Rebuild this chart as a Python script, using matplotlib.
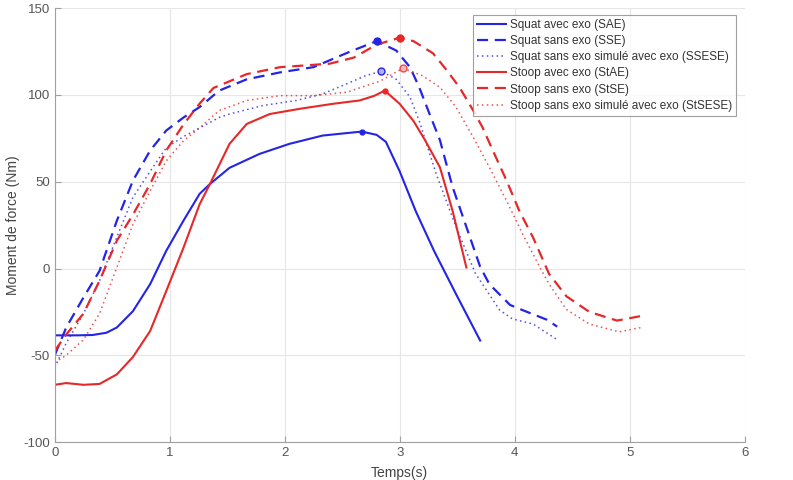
import matplotlib
matplotlib.use("Agg")
import matplotlib.pyplot as plt

plt.rcParams["font.family"] = ["Liberation Sans", "DejaVu Sans"]
plt.rcParams["axes.unicode_minus"] = False

# Squat avec exo (SAE)
sae_t = [0.0, 0.2, 0.33, 0.45, 0.54, 0.68, 0.83, 0.97, 1.12, 1.26, 1.35, 1.52, 1.78, 2.04,
         2.33, 2.67, 2.8, 2.88, 3.0, 3.14, 3.3, 3.5, 3.7]
sae_y = [-38.5, -38.5, -38.3, -37, -34, -24.6, -9, 10.2, 27.6, 43, 48.7, 58, 66, 71.8,
         76.6, 78.9, 77, 73, 56, 33, 10, -16, -41.5]
# Squat sans exo (SSE)
sse_t = [0.0, 0.1, 0.25, 0.39, 0.54, 0.68, 0.83, 0.97, 1.12, 1.26, 1.43, 1.67, 1.96, 2.25,
         2.57, 2.8, 2.97, 3.09, 3.17, 3.26, 3.35, 3.46, 3.58, 3.7, 3.78, 3.96, 4.07, 4.28, 4.37]
sse_y = [-50, -34, -16.7, -1.3, 27.5, 50.6, 68, 79.5, 87, 93, 102.5, 109, 113, 116,
         125, 131, 125.6, 116, 104.4, 89, 74, 47, 24, 1, -9, -21, -24, -29.5, -33.5]
# Squat sans exo simulé avec exo (SSESE)
ssese_t = [0.0, 0.1, 0.25, 0.39, 0.54, 0.68, 0.83, 0.97, 1.12, 1.26, 1.43, 1.52, 1.81, 2.1,
           2.33, 2.54, 2.7, 2.84, 2.97, 3.09, 3.17, 3.32, 3.49, 3.66, 3.87, 3.98, 4.16, 4.37]
ssese_y = [-57, -43, -26, -7, 18, 41, 56, 69.6, 76, 81, 87, 89, 93.9, 96.8,
           100.6, 106.4, 111, 113.7, 109, 98.7, 85, 54, 24, -3, -24, -29, -32, -41]
# Stoop avec exo (StAE)
stae_t = [0.0, 0.1, 0.25, 0.39, 0.54, 0.68, 0.83, 0.97, 1.12, 1.26, 1.35, 1.52, 1.67, 1.87,
          2.13, 2.42, 2.65, 2.78, 2.87, 3.0, 3.12, 3.22, 3.35, 3.46, 3.58]
stae_y = [-67, -66, -67, -66.5, -61, -51, -36, -13, 12, 37, 48.7, 71.8, 83.3, 89,
          92, 94.9, 96.8, 99.5, 102.5, 94.9, 85, 74, 58.3, 33.3, 0.6]
# Stoop sans exo (StSE)
stse_t = [0.0, 0.1, 0.25, 0.39, 0.54, 0.68, 0.83, 0.97, 1.12, 1.26, 1.38, 1.67, 1.96, 2.39,
          2.6, 2.8, 3.0, 3.12, 3.29, 3.4, 3.52, 3.64, 3.72, 3.81, 3.93, 4.04, 4.16, 4.3,
          4.45, 4.65, 4.89, 5.09]
stse_y = [-47.5, -38, -26, -7, 16, 31, 48.7, 68, 83, 95, 104, 112, 116, 118,
          121.5, 129, 133, 131, 124, 115, 104.4, 91, 81.4, 68, 50.6, 33.3, 17.9, -3.2,
          -16, -25, -30, -27.5]
# Stoop sans exo simulé avec exo (StSESE)
stsese_t = [0.0, 0.1, 0.25, 0.39, 0.54, 0.68, 0.83, 0.97, 1.12, 1.26, 1.43, 1.67, 1.96, 2.25,
            2.54, 2.83, 3.03, 3.2, 3.35, 3.49, 3.64, 3.78, 3.93, 4.07, 4.22, 4.3, 4.45,
            4.65, 4.91, 5.1]
stsese_y = [-54, -50, -41, -26, 0.6, 25.5, 44.7, 62, 73.6, 81, 91, 96.8, 99.6, 99.6,
            101.6, 108, 115.4, 111, 104.4, 93, 75.6, 58.3, 39, 19.8, 0.6, -9, -23.6,
            -32, -36.5, -34]

# peak markers (t, y)
peaks = {
    "SAE": (2.67, 78.9),
    "SSE": (2.8, 131),
    "SSESE": (2.84, 113.7),
    "StAE": (2.87, 102.5),
    "StSE": (3.0, 133),
    "StSESE": (3.03, 115.4),
}

BLUE = "#2424E6"
RED = "#E62828"
DASH = (0, (5, 3))
DOT = (0, (1, 2.2))

fig = plt.figure(figsize=(7.93, 4.8), dpi=100)
ax = fig.add_axes([0.069, 0.079, 0.870, 0.904])

ax.plot(sae_t, sae_y, color=BLUE, lw=1.5, label="Squat avec exo (SAE)")
ax.plot(sse_t, sse_y, color=BLUE, lw=1.6, ls=DASH, label="Squat sans exo (SSE)")
ax.plot(ssese_t, ssese_y, color=BLUE, lw=1.1, ls=DOT, alpha=0.8,
        label="Squat sans exo simulé avec exo (SSESE)")
ax.plot(stae_t, stae_y, color=RED, lw=1.5, label="Stoop avec exo (StAE)")
ax.plot(stse_t, stse_y, color=RED, lw=1.6, ls=DASH, label="Stoop sans exo (StSE)")
ax.plot(stsese_t, stsese_y, color=RED, lw=1.1, ls=DOT, alpha=0.8,
        label="Stoop sans exo simulé avec exo (StSESE)")

ax.plot(*peaks["SAE"], "o", color=BLUE, ms=3.5)
ax.plot(*peaks["SSE"], "o", color=BLUE, ms=5)
ax.plot(*peaks["SSESE"], "o", mfc="#AFAFF5", mec=BLUE, ms=5)
ax.plot(*peaks["StAE"], "o", color=RED, ms=3.5)
ax.plot(*peaks["StSE"], "o", color=RED, ms=5)
ax.plot(*peaks["StSESE"], "o", mfc="#F5AFAF", mec=RED, ms=5, alpha=0.8)

ax.set_xlim(0, 6)
ax.set_ylim(-100, 150)
ax.set_xticks(range(0, 7))
ax.set_yticks([-100, -50, 0, 50, 100, 150])
ax.grid(True, color="#E6E6E6", lw=0.8)
ax.set_axisbelow(True)
for side in ["top", "right"]:
    ax.spines[side].set_visible(False)
for side in ["left", "bottom"]:
    ax.spines[side].set_color("#A0A0A0")
ax.tick_params(direction="in", colors="#A0A0A0", labelcolor="#555555", labelsize=9.5, length=4)
ax.set_xlabel("Temps(s)", fontsize=10, color="#444444", labelpad=5)
ax.set_ylabel("Moment de force (Nm)", fontsize=10, color="#444444")
ax.yaxis.set_label_coords(-0.05, 0.5)

leg = ax.legend(loc="upper right", bbox_to_anchor=(0.991, 0.99), fontsize=8.5,
                frameon=True, fancybox=False, edgecolor="#888888",
                handlelength=2.4, borderpad=0.35, labelspacing=0.35, handletextpad=0.35,
                borderaxespad=0.2)
leg.get_frame().set_linewidth(0.8)
for txt in leg.get_texts():
    txt.set_color("#333333")

fig.savefig("out.png", dpi=100)
